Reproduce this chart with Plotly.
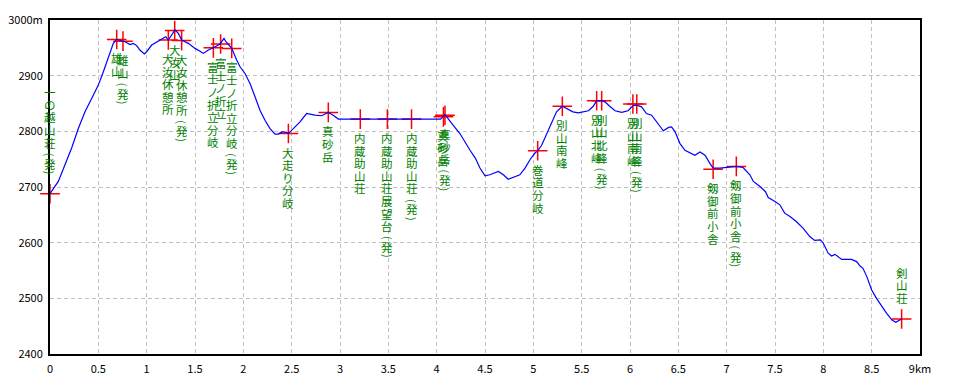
import plotly.graph_objects as go

# ---- profile data (km, m) ----
dist_km = [0.0, 0.086, 0.155, 0.224, 0.293, 0.362, 0.431, 0.5, 0.552, 0.603, 0.655, 0.69, 0.755, 0.776,
           0.828, 0.862, 0.897, 0.93, 0.976, 1.0, 1.052, 1.103, 1.155, 1.197, 1.224, 1.259, 1.293, 1.328,
           1.362, 1.431, 1.5, 1.552, 1.586, 1.638, 1.69, 1.759, 1.80, 1.82, 1.855, 1.88, 1.931, 1.966,
           2.017, 2.069, 2.121, 2.172, 2.224, 2.276, 2.328, 2.362, 2.397, 2.448, 2.466, 2.517, 2.586,
           2.655, 2.741, 2.81, 2.879, 2.93, 2.983, 3.21, 3.49, 3.74, 4.04, 4.086, 4.12, 4.17, 4.24,
           4.29, 4.345, 4.40, 4.448, 4.50, 4.55, 4.638, 4.69, 4.74, 4.79, 4.86, 4.914, 4.965, 5.017,
           5.045, 5.086, 5.138, 5.19, 5.24, 5.30, 5.36, 5.41, 5.465, 5.517, 5.57, 5.62, 5.655, 5.707,
           5.74, 5.79, 5.845, 5.914, 5.98, 6.03, 6.07, 6.12, 6.17, 6.224, 6.276, 6.345, 6.40, 6.43,
           6.466, 6.517, 6.569, 6.62, 6.672, 6.724, 6.776, 6.828, 6.86, 6.93, 7.0, 7.07, 7.10, 7.17,
           7.24, 7.276, 7.345, 7.40, 7.43, 7.5, 7.55, 7.60, 7.655, 7.72, 7.79, 7.86, 7.91, 7.97, 8.0,
           8.05, 8.086, 8.12, 8.19, 8.29, 8.345, 8.38, 8.41, 8.45, 8.50, 8.55, 8.605, 8.655, 8.71,
           8.75, 8.81]
elev_m = [2688, 2710, 2740, 2770, 2805, 2835, 2859, 2883, 2907, 2934, 2958, 2965, 2963, 2961,
          2956, 2958, 2954, 2946, 2939, 2943, 2955, 2960, 2966, 2970, 2964, 2973, 2982, 2976,
          2964, 2958, 2949, 2944, 2940, 2946, 2950, 2957, 2967, 2961, 2955, 2949, 2928, 2916,
          2904, 2886, 2862, 2838, 2820, 2805, 2795, 2795, 2799, 2798, 2796, 2805, 2817,
          2832, 2829, 2828, 2834, 2829, 2822, 2822, 2822, 2822, 2822, 2830, 2823, 2811, 2796,
          2781, 2766, 2752, 2734, 2720, 2722, 2728, 2722, 2714, 2717, 2722, 2734, 2749, 2761,
          2765, 2775, 2796, 2817, 2835, 2845, 2840, 2835, 2833, 2835, 2837, 2845, 2855, 2855,
          2853, 2845, 2837, 2834, 2837, 2846, 2847, 2844, 2832, 2829, 2817, 2801, 2807, 2808,
          2799, 2778, 2766, 2761, 2757, 2763, 2757, 2742, 2734, 2734, 2735, 2737, 2737, 2735,
          2722, 2710, 2701, 2692, 2681, 2674, 2668, 2653, 2647, 2638, 2626, 2611, 2604, 2605, 2599,
          2581, 2576, 2579, 2570, 2570, 2566, 2558, 2554, 2539, 2515, 2500, 2485, 2473, 2461,
          2457, 2463]

# ---- waypoints ----
wp_names = ["一の越山荘(発)", "雄山", "雄山(発)", "大汝休憩所", "大汝山", "大汝休憩所(発)",
            "富士ノ折立分岐", "富士ノ折立", "富士ノ折立分岐(発)", "大走り分岐", "真砂岳",
            "内蔵助山荘", "内蔵助山荘展望台(発)", "内蔵助山荘(発)", "真砂岳", "真砂岳(発)",
            "巻道分岐", "別山南峰", "別山北峰", "別山北峰(発)", "別山南峰", "別山南峰(発)",
            "剱御前小舎", "剱御前小舎(発)", "剣山荘"]
wp_km = [0.0, 0.69, 0.755, 1.224, 1.29, 1.362, 1.69, 1.765, 1.88, 2.466, 2.879,
         3.21, 3.49, 3.74, 4.07, 4.086, 5.045, 5.30, 5.655, 5.707, 6.03, 6.07,
         6.86, 7.10, 8.81]
wp_elev = [2688, 2965, 2962, 2964, 2981, 2963, 2950, 2957, 2949, 2796, 2834,
           2822, 2822, 2822, 2826, 2829, 2765, 2845, 2855, 2855, 2849, 2849,
           2732, 2737, 2463]

x_tickvals = [0, 0.5, 1, 1.5, 2, 2.5, 3, 3.5, 4, 4.5, 5, 5.5, 6, 6.5, 7, 7.5, 8, 8.5, 9]
x_ticktext = ["0", "0.5", "1", "1.5", "2", "2.5", "3", "3.5", "4", "4.5", "5", "5.5", "6",
              "6.5", "7", "7.5", "8", "8.5", "9km"]
y_tickvals = [2400, 2500, 2600, 2700, 2800, 2900, 3000]
y_ticktext = ["2400", "2500", "2600", "2700", "2800", "2900", "3000m"]

# labels drawn above their point (no room below)
labels_above = {0, len(wp_names) - 1}

FONT = "Noto Sans CJK JP"
GREEN = "#008000"

fig = go.Figure()
fig.add_trace(go.Scatter(x=wp_km, y=wp_elev, mode="markers",
                         marker=dict(symbol="cross-thin", size=14,
                                     line=dict(color="#FF0000", width=1.5)),
                         hoverinfo="skip", cliponaxis=False))
fig.add_trace(go.Scatter(x=dist_km, y=elev_m, mode="lines",
                         line=dict(color="#0000FF", width=1.2), hoverinfo="skip"))


def glyphs(label):
    """Return list of (text, offset_px, angle) for vertical layout; offsets downward from first glyph."""
    out = []
    pitch = 12.6
    pos = 0.0
    main = label
    hatsu = False
    if label.endswith("(発)"):
        main = label[:-3]
        hatsu = True
    for ch in main:
        out.append((ch, pos, 0))
        pos += pitch
    last = pos - pitch
    if hatsu:
        c = last + 21
        out.append(("(", c - 9, 90))
        out.append(("発", c, 0))
        out.append((")", c + 9, 90))
    return out


annotations = []
for idx, (name, xk, ev) in enumerate(zip(wp_names, wp_km, wp_elev)):
    g = glyphs(name)
    if idx in labels_above:
        last_off = g[-1][1]
        base = -(21 + last_off)
    else:
        base = 19
    for ch, off, ang in g:
        annotations.append(dict(
            x=xk, y=ev, xref="x", yref="y", text=ch, showarrow=False,
            xanchor="center", yanchor="middle", yshift=-(base + off),
            textangle=ang,
            font=dict(family=FONT, size=11.5 if ang == 0 else 11, color=GREEN)))

# the page body adds an 8px offset, so the figure is 8px smaller and margins compensate
fig.update_layout(
    width=952, height=376,
    margin=dict(l=42, r=40, t=12, b=30, autoexpand=False),
    paper_bgcolor="white", plot_bgcolor="white",
    showlegend=False,
    annotations=annotations,
    font=dict(family=FONT, size=11, color="black"),
    xaxis=dict(range=[0, 9], tickvals=x_tickvals, ticktext=x_ticktext,
               showgrid=True, gridcolor="#C0C0C0", griddash="4px,3px", gridwidth=1,
               showline=True, linecolor="black", linewidth=2, mirror=True,
               ticks="", zeroline=False, ticklabelstandoff=4, automargin=False,
               tickfont=dict(family=FONT, size=11, color="black")),
    yaxis=dict(range=[2400, 3000], tickvals=y_tickvals, ticktext=y_ticktext,
               showgrid=True, gridcolor="#C0C0C0", griddash="4px,3px", gridwidth=1,
               showline=True, linecolor="black", linewidth=2, mirror=True,
               ticks="", zeroline=False, ticklabelstandoff=3, automargin=False,
               tickfont=dict(family=FONT, size=11, color="black")),
)

fig.write_html("out.html")
